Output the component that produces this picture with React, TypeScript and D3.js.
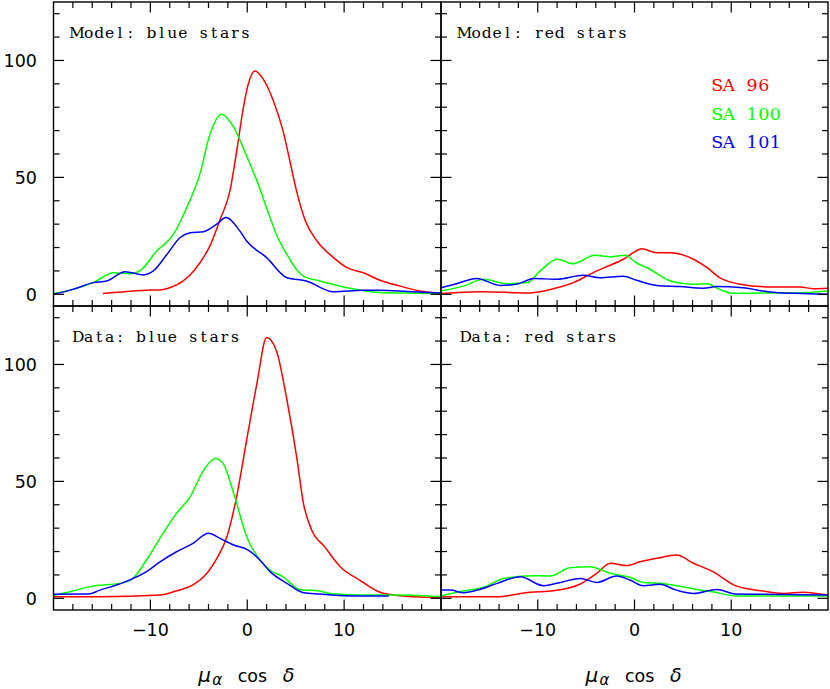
import React from "react";
import * as d3 from "d3";

type Pt = [number, number];

const xTickLabels = [-10, 0, 10];
const yTickLabels = [0, 50, 100];
const seriesNames = ["SA 96", "SA 100", "SA 101"];
const seriesColors = ["#ff0000", "#00ff00", "#0000ff"];

// Model: blue stars
const modelBlue96: Pt[] = [
  [-14.9, 0.3], [-10, 1.8], [-8.8, 2], [-7.8, 3.1], [-5.9, 8.3], [-4.9, 13.4], [-3.85, 20.7],
  [-2.8, 32], [-1.8, 44], [-1.1, 61], [-0.4, 79.8], [0.1, 89.8], [0.8, 95.5], [1.65, 92],
  [2.7, 82.7], [3.7, 69.8], [4.4, 57], [5.1, 44], [6.0, 31.4], [7.2, 22.8], [8.9, 15.7],
  [10.3, 11.4], [12.0, 9.2], [13.7, 6], [15.8, 3.5], [17.8, 1.4], [20, 0.5],
];
const modelBlue100: Pt[] = [
  [-20, 0.3], [-18, 2.1], [-15.9, 5], [-13.8, 9.2], [-12.1, 8.8], [-11.1, 10], [-9.35, 18.5],
  [-7.6, 25.7], [-6.25, 37], [-4.9, 51.3], [-3.85, 68.4], [-2.65, 77], [-1.4, 71.5], [-0.05, 59],
  [1, 48.5], [2.35, 32.8], [3.0, 25.7], [4.1, 17], [5.3, 9.5], [5.8, 7.8], [7.5, 5.7],
  [10.3, 2.8], [13.7, 0.8], [17, 0.5], [20, 0.3],
];
const modelBlue101: Pt[] = [
  [-20, 0], [-18, 2.1], [-15.9, 5], [-14.5, 5.7], [-12.6, 9.7], [-10.7, 8.3], [-9.7, 10],
  [-8.3, 17], [-6.95, 24.2], [-5.9, 26.3], [-4.5, 26.8], [-3.15, 30], [-2.2, 32.8], [-0.75, 27],
  [-0.06, 22.8], [2.0, 15.7], [4.1, 7.1], [6.1, 5.7], [8.9, 1.1], [12, 1.7], [13.7, 1.7],
  [16.5, 1.2], [20, 0.5],
];

// Model: red stars
const modelRed96: Pt[] = [
  [-20, 0.3], [-15.9, 1.1], [-10.8, 0.6], [-8.0, 2.8], [-6.3, 5], [-4.6, 8.6], [-2.9, 11.8],
  [-1.15, 15], [-0.12, 17.8], [0.74, 19.5], [2.3, 17.8], [3.7, 17.8], [6.1, 15], [7.5, 11.4],
  [8.8, 7.1], [10.9, 4.3], [14.3, 3.1], [17.1, 3.1], [18.5, 2.4], [20, 2.6],
];
const modelRed100: Pt[] = [
  [-20, 1.4], [-17.7, 3.5], [-15.6, 6.4], [-13.2, 4.5], [-11.1, 5], [-9.75, 10], [-8.0, 15],
  [-6.3, 13.1], [-4.1, 16.7], [-2.5, 16], [-1.0, 16.7], [0.2, 13.5], [1.6, 10.7], [3.7, 5.7],
  [6.1, 4.3], [7.5, 4.5], [8.8, 2.1], [10.2, 0.4], [13.3, 0.6], [16.7, 0.6], [20, 1.4],
];
const modelRed101: Pt[] = [
  [-20, 2.8], [-18.4, 4.5], [-16.3, 6.8], [-13.9, 3.8], [-12.2, 4.3], [-10.4, 6.8], [-8.0, 6.4],
  [-5.3, 8.1], [-3.6, 7.1], [-1.15, 7.7], [0.2, 6], [2.3, 3.8], [4.7, 3.3], [7.1, 2.6],
  [8.5, 3.3], [11.2, 2.8], [14, 1], [16.7, 0.4], [20, 0],
];

// Data: blue stars
const dataBlue96: Pt[] = [
  [-20, 0.7], [-15.2, 0.7], [-9, 1.4], [-7.3, 3.2], [-5.6, 5.7], [-4.5, 9.2], [-3.15, 17],
  [-2.1, 26.3], [-1.1, 43.4], [-0.06, 67.7], [1, 91.9], [2.0, 111.5], [3.0, 106], [4.1, 84.7],
  [5.1, 60.5], [5.8, 40.6], [6.65, 29.2], [8.0, 22], [9.6, 13.5], [11.6, 7.8], [13.7, 2.6],
  [15.8, 1.1], [18.9, 0.4], [20, 0.3],
];
const dataBlue100: Pt[] = [
  [-20, 1.2], [-18.3, 2.8], [-16.2, 5], [-12.8, 6.7], [-11.8, 8.5], [-10.4, 16.4], [-8.7, 27.8],
  [-7.3, 36.3], [-5.9, 43.4], [-4.5, 54.8], [-3.3, 59.8], [-2.5, 57.7], [-1.4, 44.9], [-0.06, 26.3],
  [1.3, 16.4], [2.35, 12.1], [3.7, 9.2], [5.4, 3.8], [7.5, 3.1], [8.5, 2.1], [12.3, 1.4],
  [15.8, 1.4], [20, 0.7],
];
const dataBlue101: Pt[] = [
  [-20, 1.7], [-16.4, 1.8], [-15.2, 3.5], [-12.8, 6.7], [-10.4, 11.4], [-9, 15.6], [-7.3, 19.9],
  [-5.6, 23.5], [-4.0, 27.8], [-2.8, 25.6], [-1.4, 22.8], [0.1, 20.6], [1.3, 16.4], [2.35, 11.4],
  [4.1, 6.4], [5.8, 2.4], [7.5, 1.8], [9.9, 1.1], [12.3, 1.0], [14.6, 1.0],
];

// Data: red stars
const dataRed96: Pt[] = [
  [-20, 0.7], [-14.2, 0.7], [-10.8, 2.6], [-8.4, 3.2], [-5.6, 6.1], [-3.9, 10.7], [-2.5, 15],
  [-0.8, 14], [0.57, 15.6], [2.3, 17.1], [4.35, 18.5], [6.1, 15], [8.1, 11.4], [10.5, 5.3],
  [13.3, 3.1], [15.4, 2.1], [17.4, 2.6], [18.8, 2.1], [20, 1.4],
];
const dataRed100: Pt[] = [
  [-20, 1], [-17.7, 3.1], [-15.6, 4.7], [-13.5, 8.5], [-10.4, 9.7], [-8.7, 9.5], [-6.7, 13.1],
  [-4.6, 13.5], [-2.5, 10.7], [-0.5, 9], [0.9, 6.8], [2.6, 6.4], [4.35, 5.4], [6.4, 3.8],
  [8.1, 2.8], [10.5, 1], [13.3, 1], [16.7, 1], [20, 1],
];
const dataRed101: Pt[] = [
  [-20, 3.5], [-19, 3.5], [-17.7, 2.4], [-16, 3.8], [-14.2, 6.4], [-11.8, 9.2], [-9.4, 5.4],
  [-7.35, 7.1], [-5.6, 8.5], [-3.9, 6.8], [-1.85, 9.5], [-0.46, 7.8], [0.9, 5.4], [2.6, 6],
  [4.35, 3.5], [6.1, 2.1], [8.5, 3.8], [10.5, 1.8], [13.3, 1.7], [20, 1.4],
];

const panelTitles = ["Model: blue stars", "Model: red stars", "Data: blue stars", "Data: red stars"];
const panelSeries: Pt[][][] = [
  [modelBlue96, modelBlue100, modelBlue101],
  [modelRed96, modelRed100, modelRed101],
  [dataBlue96, dataBlue100, dataBlue101],
  [dataRed96, dataRed100, dataRed101],
];

const W = 830;
const H = 689;
const colEdges = [53.5, 441, 828];
const rowEdges = [2, 306, 610];

const xMinor = d3.range(-18, 19, 2);
const yMinor = d3.range(0, 121, 10);

const SERIF = "DejaVu Serif, serif";

// monospaced placement of serif glyphs, one cell per character
function MonoText({
  text,
  x,
  y,
  cell,
  size,
  fill,
}: {
  text: string;
  x: number;
  y: number;
  cell: number;
  size: number;
  fill: string;
}) {
  const chars = Array.from(text);
  return (
    <text y={y} fontFamily={SERIF} fontSize={size} fill={fill} textAnchor="middle">
      {chars.map((c, i) =>
        c === " " ? null : (
          <tspan key={i} x={x + cell * (i + 0.5) - (c === "M" ? 1.4 : 0)}>
            {c}
          </tspan>
        )
      )}
    </text>
  );
}

function Panel({ idx }: { idx: number }) {
  const col = idx % 2;
  const row = Math.floor(idx / 2);
  const x0 = colEdges[col];
  const x1 = colEdges[col + 1];
  const y0 = rowEdges[row];
  const y1 = rowEdges[row + 1];
  const xs = d3.scaleLinear().domain([-20, 20]).range([x0, x1]);
  const ys = d3.scaleLinear().domain([-5, 125]).range([y1, y0]);
  const line = d3
    .line<Pt>()
    .x((d) => xs(d[0]))
    .y((d) => ys(d[1]))
    .curve(d3.curveMonotoneX);
  const clipId = `clip${idx}`;
  const major = 10.5;
  const minor = 6;
  const tickStroke = { stroke: "#000", strokeWidth: 1.2 };
  return (
    <g>
      <defs>
        <clipPath id={clipId}>
          <rect x={x0} y={y0} width={x1 - x0} height={y1 - y0} />
        </clipPath>
      </defs>
      <g clipPath={`url(#${clipId})`}>
        {panelSeries[idx].map((s, i) => (
          <path key={i} d={line(s) || ""} fill="none" stroke={seriesColors[i]} strokeWidth={1.5} />
        ))}
      </g>
      {xMinor.map((v) => {
        const L = v % 10 === 0 ? major : minor;
        const px = xs(v);
        return (
          <g key={`x${v}`}>
            <line x1={px} x2={px} y1={y1} y2={y1 - L} {...tickStroke} />
            <line x1={px} x2={px} y1={y0} y2={y0 + L} {...tickStroke} />
          </g>
        );
      })}
      {yMinor.map((v) => {
        const L = v % 50 === 0 ? major : minor;
        const py = ys(v);
        return (
          <g key={`y${v}`}>
            <line x1={x0} x2={x0 + L} y1={py} y2={py} {...tickStroke} />
            <line x1={x1} x2={x1 - L} y1={py} y2={py} {...tickStroke} />
          </g>
        );
      })}
      <rect x={x0} y={y0} width={x1 - x0} height={y1 - y0} fill="none" stroke="#000" strokeWidth={1.4} />
      <MonoText text={panelTitles[idx]} x={x0 + 19.5} y={y0 + 35.5} cell={10.45} size={15.5} fill="#000" />
      {col === 0 &&
        yTickLabels.map((v) => (
          <text
            key={`yl${v}`}
            x={37}
            y={ys(v) + 6.3}
            textAnchor="end"
            fontFamily="DejaVu Sans, sans-serif"
            fontSize={17.5}
            fill="#000"
          >
            {v}
          </text>
        ))}
      {row === 1 &&
        xTickLabels.map((v) => (
          <text
            key={`xl${v}`}
            x={xs(v)}
            y={636}
            textAnchor="middle"
            fontFamily="DejaVu Sans, sans-serif"
            fontSize={17.5}
            fill="#000"
          >
            {v < 0 ? `\u2212${Math.abs(v)}` : v}
          </text>
        ))}
      {row === 1 && (
        <g fontFamily="DejaVu Sans, sans-serif" fill="#000">
          <text x={xs(0) - 49} y={682} fontSize={20} fontStyle="italic">μ</text>
          <text x={xs(0) - 35} y={685} fontSize={15} fontStyle="italic">α</text>
          <text x={xs(0) - 9.5} y={682} fontSize={17.5}>cos</text>
          <text x={xs(0) + 35.5} y={682} fontSize={19} fontStyle="italic">δ</text>
        </g>
      )}
      {idx === 1 &&
        seriesNames.map((n, i) => (
          <MonoText
            key={n}
            text={n}
            x={711.5}
            y={91 + i * 28.5}
            cell={11.6}
            size={17.5}
            fill={seriesColors[i]}
          />
        ))}
    </g>
  );
}

export default function App() {
  return (
    <svg
      width={W}
      height={H}
      style={{ position: "absolute", left: 0, top: 0, background: "#fff" }}
    >
      <rect x={0} y={0} width={W} height={H} fill="#fff" />
      {[0, 1, 2, 3].map((i) => (
        <Panel key={i} idx={i} />
      ))}
    </svg>
  );
}
